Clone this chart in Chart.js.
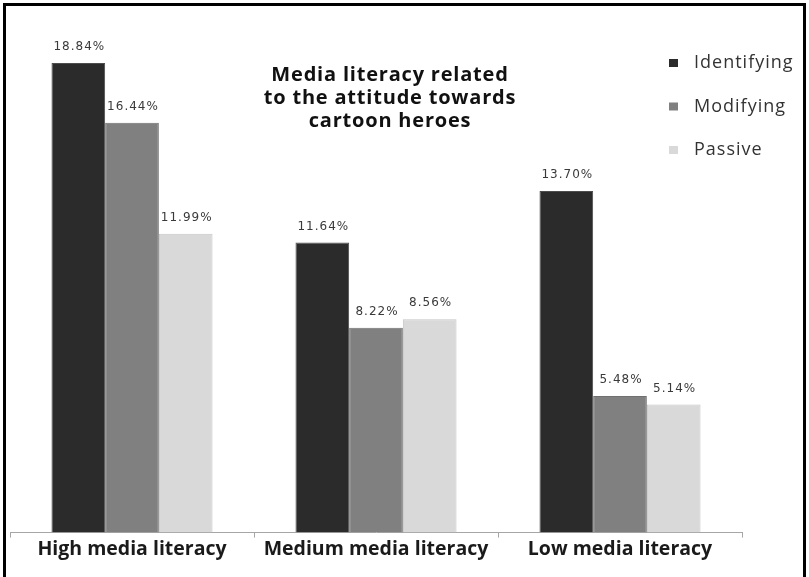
<!DOCTYPE html>
<html>
<head>
<meta charset="utf-8">
<script src="https://cdn.jsdelivr.net/npm/chart.js@4/dist/chart.umd.min.js"></script>
<style>
  html, body { margin: 0; padding: 0; background: #fff; overflow: hidden; }
  #frame {
    position: absolute; left: 3px; top: 3px; width: 797px; height: 620px;
    border: 3px solid #000; border-bottom: none;
  }
  #wrap { position: absolute; left: 0; top: 0; width: 809px; height: 577px; }
</style>
</head>
<body>
<div id="frame"></div>
<div id="wrap"><canvas id="chart"></canvas></div>
<script>
// Percentages per literacy level
const categories = ['High media literacy', 'Medium media literacy', 'Low media literacy'];
const seriesNames = ['Identifying', 'Modifying', 'Passive'];
const identifying = [18.84, 11.64, 13.70];
const modifying = [16.44, 8.22, 5.48];
const passive = [11.99, 8.56, 5.14];
const titleLines = ['Media literacy related', 'to the attitude towards', 'cartoon heroes'];

const fills = ['#2b2b2b', '#808080', '#d9d9d9'];
const edges = ['#4d4d4d', '#6f6f6f', '#c4c4c4'];

// Value labels above each bar
const valueLabels = {
  id: 'valueLabels',
  afterDatasetsDraw(chart) {
    const ctx = chart.ctx;
    ctx.save();
    ctx.font = '12px "DejaVu Sans"';
    ctx.letterSpacing = '1px';
    ctx.fillStyle = '#3a3a3a';
    ctx.textAlign = 'center';
    ctx.textBaseline = 'middle';
    chart.data.datasets.forEach((ds, i) => {
      chart.getDatasetMeta(i).data.forEach((bar, j) => {
        ctx.fillText(ds.data[j].toFixed(2) + '%', bar.x + 1, bar.y - 16);
      });
    });
    ctx.restore();
  }
};

// Centered title block inside the plot
const titleBlock = {
  id: 'titleBlock',
  afterDraw(chart) {
    const ctx = chart.ctx;
    ctx.save();
    ctx.font = 'bold 20px "Open Sans"';
    ctx.letterSpacing = '0.8px';
    ctx.fillStyle = '#111';
    ctx.textAlign = 'center';
    ctx.textBaseline = 'middle';
    titleLines.forEach((line, i) => ctx.fillText(line, 390, 75 + i * 23));
    ctx.restore();
  }
};

// Vertical legend in the upper right corner
const sideLegend = {
  id: 'sideLegend',
  afterDraw(chart) {
    const ctx = chart.ctx;
    ctx.save();
    ctx.font = '18px "Open Sans"';
    ctx.letterSpacing = '1px';
    ctx.textBaseline = 'middle';
    chart.data.datasets.forEach((ds, i) => {
      const y = 63 + i * 43.5;
      ctx.fillStyle = ds.backgroundColor;
      ctx.fillRect(669, y - 4, 9, 8);
      ctx.fillStyle = '#333';
      ctx.fillText(ds.label, 694, y);
    });
    ctx.restore();
  }
};

const series = [identifying, modifying, passive];

new Chart(document.getElementById('chart'), {
  type: 'bar',
  data: {
    labels: categories,
    datasets: series.map((d, i) => ({
      label: seriesNames[i],
      data: d,
      backgroundColor: fills[i],
      borderColor: edges[i],
      borderWidth: 1,
      categoryPercentage: 0.66,
      barPercentage: 1.0
    }))
  },
  options: {
    responsive: true,
    maintainAspectRatio: false,
    animation: false,
    layout: { padding: { left: 10, right: 67, top: 34, bottom: 16 } },
    plugins: {
      legend: { display: false },
      tooltip: { enabled: false }
    },
    scales: {
      x: {
        grid: {
          offset: true,
          drawOnChartArea: false,
          drawTicks: true,
          tickLength: 5,
          color: '#a6a6a6'
        },
        border: { display: true, color: '#a6a6a6', width: 1 },
        ticks: {
          color: '#1a1a1a',
          padding: 0,
          font: { family: 'Open Sans', size: 19.5, weight: 'bold' }
        }
      },
      y: {
        display: false,
        min: 0,
        max: 20
      }
    }
  },
  plugins: [valueLabels, titleBlock, sideLegend]
});
</script>
</body>
</html>
